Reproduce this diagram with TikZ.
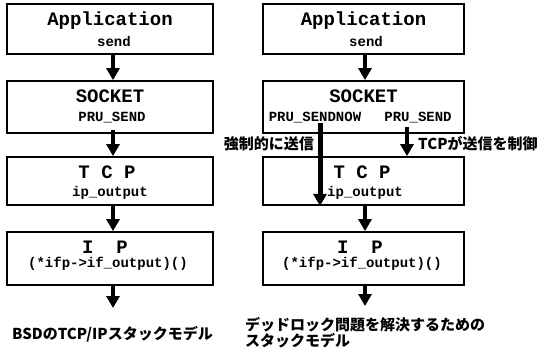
\documentclass[tikz,border=0pt]{standalone}
\usepackage{fontspec}
\newfontfamily\mono{Liberation Mono}
\newfontfamily\cjk{Noto Sans CJK JP}
\usetikzlibrary{arrows.meta}
\begin{document}
\begin{tikzpicture}[x=1pt,y=-1pt,
  box/.style={draw=black,line width=1.8pt,inner sep=0pt},
  ttl/.style={anchor=base,inner sep=0pt,font=\mono\bfseries\fontsize{19}{19}\selectfont},
  sub/.style={anchor=base,inner sep=0pt,font=\mono\bfseries\fontsize{14}{14}\selectfont},
  jp/.style={inner sep=0pt,font=\cjk\bfseries\fontsize{15}{17}\selectfont},
  arr/.style={line width=4pt,-{Triangle[width=13pt,length=12pt]}},
  arrthick/.style={line width=5pt,-{Triangle[width=13pt,length=12pt]}}]
\useasboundingbox[fill=white] (0,0) rectangle (537,351);
% left column boxes
\node[box,minimum width=206pt,minimum height=50pt] (app1) at (110,29) {};
\node[box,minimum width=206pt,minimum height=52pt] (sock1) at (110,107) {};
\node[box,minimum width=206pt,minimum height=48pt] (tcp1) at (110,181) {};
\node[box,minimum width=206pt,minimum height=53pt] (ip1) at (110,258.5) {};
% right column boxes
\node[box,minimum width=201pt,minimum height=50pt] (app2) at (363.5,29) {};
\node[box,minimum width=201pt,minimum height=52pt] (sock2) at (363.5,107) {};
\node[box,minimum width=201pt,minimum height=48pt] (tcp2) at (363.5,181) {};
\node[box,minimum width=201pt,minimum height=53pt] (ip2) at (363.5,258.5) {};
% left texts
\node[ttl] (t1a) at (110,25) {Application};
\node[sub] (s1a) at (114,46) {send};
\node[ttl] (t1b) at (110,102) {SOCKET};
\node[sub] (s1b) at (112,121) {PRU\_SEND};
\node[ttl] (t1c) at (107,178) {T C P};
\node[sub] (s1c) at (110,196) {ip\_output};
\node[ttl] (t1d) at (105,253) {I\ \ P};
\node[sub] (s1d) at (108,267) {(*ifp->if\_output)()};
% right texts
\node[ttl] (t2a) at (363.5,25) {Application};
\node[sub] (s2a) at (366,46) {send};
\node[ttl] (t2b) at (363.5,102) {SOCKET};
\node[sub] (s2c) at (315,121) {PRU\_SENDNOW};
\node[sub] (s2d) at (418,121) {PRU\_SEND};
\node[ttl] (t2c) at (362,178) {T C P};
\node[sub] (s2e) at (365,196) {ip\_output};
\node[ttl] (t2d) at (360,253) {I\ \ P};
\node[sub] (s2f) at (362,267) {(*ifp->if\_output)()};
% labels
\node[jp,anchor=base east] (lbl1) at (314,149) {強制的に送信};
\node[jp,anchor=base west] (lbl2) at (418,149) {TCPが送信を制御};
\node[jp,anchor=base west] (cap1) at (12,339) {BSDのTCP/IPスタックモデル};
\node[jp,anchor=base west] (cap2a) at (245,330) {デッドロック問題を解決するための};
\node[jp,anchor=base west] (cap2b) at (245,346) {スタックモデル};
% free ends
\coordinate (e1) at (113,308);
\coordinate (e2) at (365,306);
% left arrows
\draw[arr] ([xshift=3pt]app1.south) -- ([xshift=3pt]sock1.north);
\draw[arr] ([xshift=3pt,yshift=4pt]sock1.south) -- ([xshift=3pt]tcp1.north);
\draw[arr] ([xshift=3pt]tcp1.south) -- ([xshift=3pt]ip1.north);
\draw[arr] ([xshift=3pt]ip1.south) -- (e1);
% right arrows
\draw[arr] ([xshift=1.5pt]app2.south) -- ([xshift=1.5pt]sock2.north);
\draw[arr] ([xshift=43.5pt,yshift=7pt]sock2.south) -- ([xshift=43.5pt]tcp2.north);
\draw[arrthick] ([xshift=-43.5pt,yshift=11pt]sock2.south) -- ([xshift=-43.5pt]tcp2.south);
\draw[arr] ([xshift=1.5pt]tcp2.south) -- ([xshift=1.5pt]ip2.north);
\draw[arr] ([xshift=1.5pt]ip2.south) -- (e2);
\end{tikzpicture}
\end{document}
